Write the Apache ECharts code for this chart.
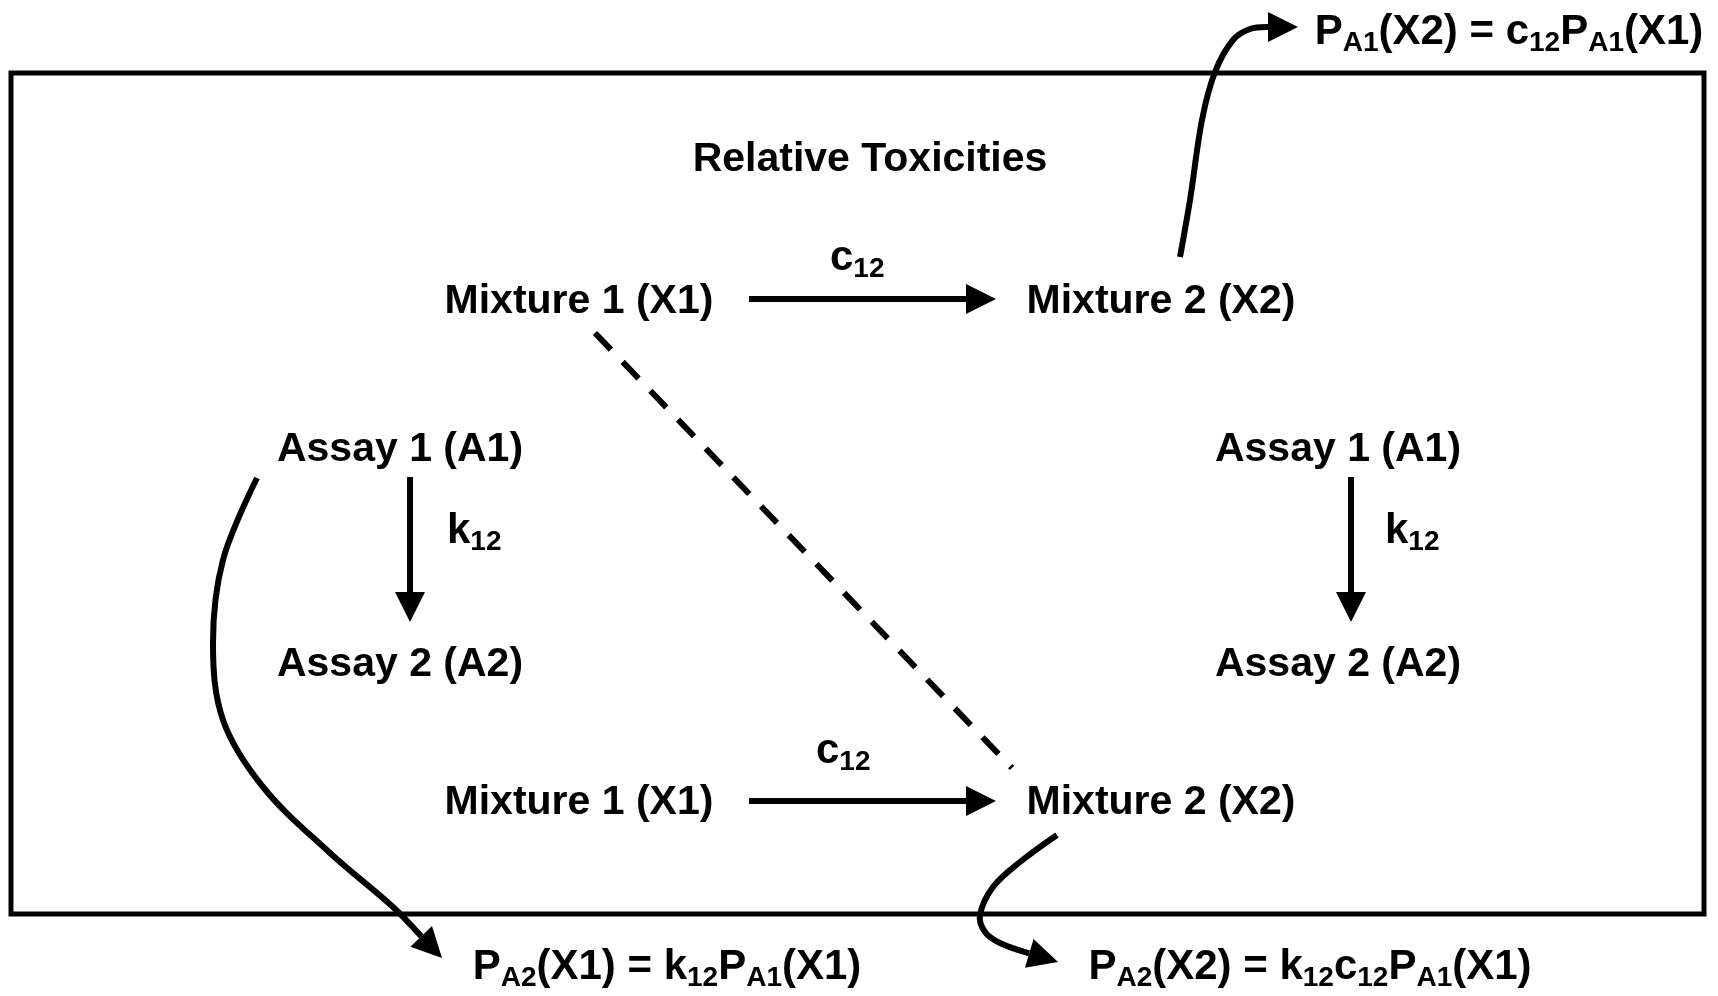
<!DOCTYPE html>
<html><head><meta charset="utf-8">
<script src="https://cdn.jsdelivr.net/npm/echarts@6/dist/echarts.min.js"></script>
<style>html,body{margin:0;padding:0;background:#fff}#c{width:1718px;height:996px}</style>
</head><body><div id="c"></div>
<script>
// ---- data (diagram coordinates in the figure's own units) ----
const frameBounds = [11, 73, 1704, 914];           // xMin, yMin, xMax, yMax of the outer box
const nodeLabels = ['Mixture 1 (X1)', 'Mixture 2 (X2)', 'Assay 1 (A1)', 'Assay 2 (A2)',
                    'Assay 1 (A1)', 'Assay 2 (A2)', 'Mixture 1 (X1)', 'Mixture 2 (X2)'];
const nodeX = [579, 1161, 400, 400, 1338, 1338, 579, 1161];
const nodeY = [302, 302, 450, 665, 450, 665, 803, 803];

const titleText = ['Relative Toxicities'];
const titleX = [870];
const titleY = [160];

const edgeLabels = ['c_{12}', 'k_{12}', 'k_{12}', 'c_{12}'];
const edgeLabelX = [830, 447, 1385, 816];
const edgeLabelY = [258, 531, 531, 751];

const formulas = ['P_{A1}(X2) = c_{12}P_{A1}(X1)', 'P_{A2}(X1) = k_{12}P_{A1}(X1)', 'P_{A2}(X2) = k_{12}c_{12}P_{A1}(X1)'];
const formulaX = [1509, 667, 1310];
const formulaY = [32, 967, 967];

const arrowPaths = [
  [[749, 299], [996, 299]],
  [[410, 477], [410, 622]],
  [[1351, 477], [1351, 622]],
  [[749, 801], [996, 801]],
  [[1180, 257], [1190, 200], [1202, 120], [1215, 72], [1233, 40], [1250, 29], [1268, 27], [1298, 27]],
  [[257, 478], [223, 560], [213, 643], [223, 720], [263, 787], [330, 853], [393, 907], [442, 958]],
  [[1057, 835], [1020, 862], [993, 887], [980, 915], [985, 932], [1000, 943], [1028, 953], [1058, 962]]
];
const dashedPath = [[595, 333], [1012, 768]];

// ---- helpers ----
function toRich(s) {
  return s.replace(/_\{([^}]*)\}/g, '\u0000$1\u0001').split(/(\u0000[^\u0001]*\u0001)/).filter(t => t.length)
    .map(t => t[0] === '\u0000' ? '{s|' + t.slice(1, -1) + '}' : '{m|' + t + '}').join('');
}
const FONT = '"Liberation Sans", Arial, sans-serif';

const chart = echarts.init(document.getElementById('c'));
const hidden = { color: 'rgba(0,0,0,0)', opacity: 1 };

function textSeries(xs, ys, texts, labelOpt) {
  return {
    type: 'scatter', clip: false, silent: true, symbolSize: 1, itemStyle: hidden,
    data: xs.map((x, i) => ({ value: [x, ys[i]], name: texts[i] })),
    label: Object.assign({ show: true, position: 'inside', color: '#000', opacity: 1 }, labelOpt)
  };
}

const HEAD_L = 30, HEAD_W = 30;

chart.setOption({
  animation: false,
  backgroundColor: '#fff',
  grid: {
    left: frameBounds[0], top: frameBounds[1], right: 1718 - frameBounds[2], bottom: 996 - frameBounds[3],
    show: true, borderColor: '#000', borderWidth: 5, backgroundColor: 'transparent'
  },
  xAxis: { type: 'value', min: frameBounds[0], max: frameBounds[2], show: false },
  yAxis: { type: 'value', min: frameBounds[1], max: frameBounds[3], inverse: true, show: false },
  series: [
    {
      type: 'custom', clip: false, silent: true,
      data: arrowPaths.map((p, i) => i),
      renderItem: function (params, api) {
        const pts = arrowPaths[params.dataIndex].map(p => api.coord(p));
        const tip = pts[pts.length - 1];
        const prev = pts[pts.length - 2];
        let dx = tip[0] - prev[0], dy = tip[1] - prev[1];
        const len = Math.sqrt(dx * dx + dy * dy); dx /= len; dy /= len;
        const base = [tip[0] - HEAD_L * dx, tip[1] - HEAD_L * dy];
        const nx = -dy, ny = dx;
        const shaft = pts.slice(0, -1).filter((p, k) => k === 0 ||
          Math.hypot(p[0] - tip[0], p[1] - tip[1]) > HEAD_L + 4);
        shaft.push(base);
        return {
          type: 'group', children: [
            { type: 'polyline', shape: { points: shaft, smooth: pts.length > 2 ? 0.35 : 0 },
              style: { stroke: '#000', lineWidth: 6, fill: null, lineCap: 'butt', lineJoin: 'round' } },
            { type: 'polygon', shape: { points: [tip,
                [base[0] + nx * HEAD_W / 2, base[1] + ny * HEAD_W / 2],
                [base[0] - nx * HEAD_W / 2, base[1] - ny * HEAD_W / 2]] },
              style: { fill: '#000', stroke: null } }
          ]
        };
      }
    },
    {
      type: 'custom', clip: false, silent: true, data: [0],
      renderItem: function (params, api) {
        return { type: 'polyline', shape: { points: dashedPath.map(p => api.coord(p)) },
          style: { stroke: '#000', lineWidth: 6, fill: null, lineDash: [23, 17] } };
      }
    },
    textSeries(nodeX, nodeY, nodeLabels, {
      formatter: p => p.name, fontFamily: FONT, fontWeight: 'bold', fontSize: 41
    }),
    textSeries(titleX, titleY, titleText, {
      formatter: p => p.name, fontFamily: FONT, fontWeight: 'bold', fontSize: 41
    }),
    textSeries(edgeLabelX, edgeLabelY, edgeLabels, {
      formatter: p => toRich(p.name), align: 'left',
      rich: {
        m: { fontFamily: FONT, fontWeight: 'bold', fontSize: 42, lineHeight: 50, color: '#000' },
        s: { fontFamily: FONT, fontWeight: 'bold', fontSize: 28, lineHeight: 16, verticalAlign: 'bottom', color: '#000' }
      }
    }),
    textSeries(formulaX, formulaY, formulas, {
      formatter: p => toRich(p.name),
      rich: {
        m: { fontFamily: FONT, fontWeight: 'bold', fontSize: 42, lineHeight: 50, color: '#000' },
        s: { fontFamily: FONT, fontWeight: 'bold', fontSize: 28, lineHeight: 14, verticalAlign: 'bottom', color: '#000' }
      }
    })
  ]
});
</script></body></html>
